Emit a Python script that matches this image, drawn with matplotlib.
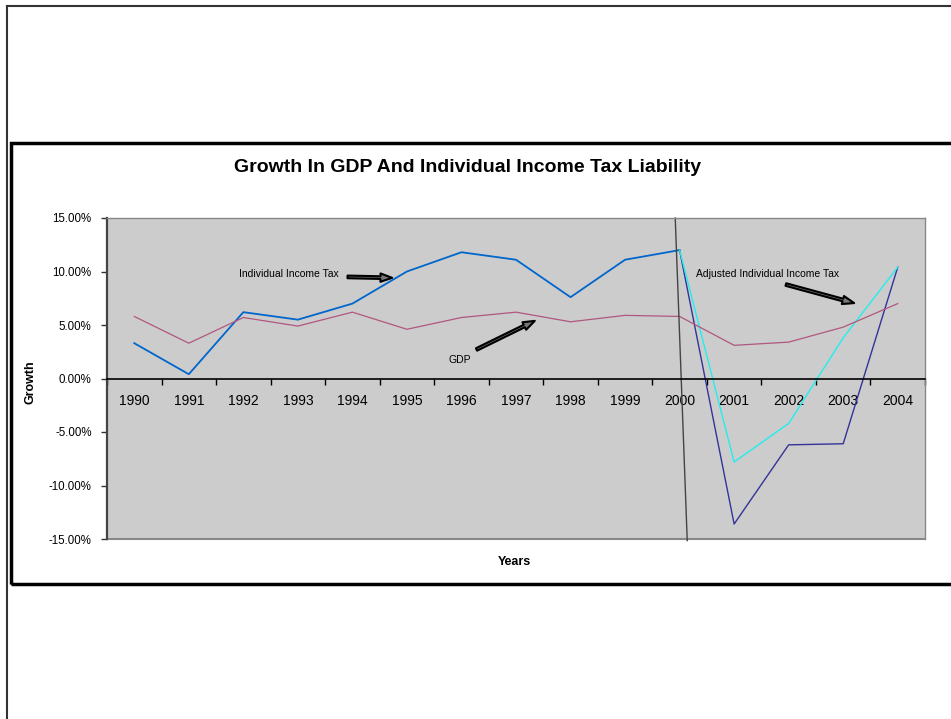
import numpy as np
import matplotlib
matplotlib.use("Agg")
import matplotlib.pyplot as plt
from matplotlib.patches import Rectangle, FancyArrowPatch
from matplotlib.lines import Line2D
from matplotlib.ticker import FixedLocator, FuncFormatter

plt.rcParams['font.family'] = ['Liberation Sans', 'DejaVu Sans']

# data (growth, percent)
years = ['1990', '1991', '1992', '1993', '1994', '1995', '1996', '1997',
         '1998', '1999', '2000', '2001', '2002', '2003', '2004']
income_tax = [3.3, 0.4, 6.2, 5.5, 7.0, 10.0, 11.8, 11.1, 7.6, 11.1, 12.0]
income_tax_after = [12.0, -13.6, -6.2, -6.1, 10.4]
adjusted_tax = [12.0, -7.8, -4.2, 3.8, 10.4]
gdp = [5.8, 3.3, 5.7, 4.9, 6.2, 4.6, 5.7, 6.2, 5.3, 5.9, 5.8, 3.1, 3.4, 4.8, 7.0]

x = np.arange(len(years))
x_after = x[10:]

W, H = 951, 719
fig = plt.figure(figsize=(W / 100, H / 100), dpi=100)
fig.patch.set_facecolor('white')

# page frame
fig.add_artist(Line2D([7 / W, 7 / W], [0, 1 - 6 / H], color='#333333', lw=1.5))
fig.add_artist(Line2D([7 / W, 1], [1 - 6 / H, 1 - 6 / H], color='#333333', lw=1.5))
# chart box
fig.add_artist(Rectangle((11 / W, 1 - 584 / H), 960 / W, (584 - 143) / H,
                         transform=fig.transFigure, fill=False, ec='black', lw=2.5))

ax = fig.add_axes([107 / W, 1 - 539 / H, 818 / W, (539 - 218) / H])
ax.set_facecolor('#cccccc')

ax.plot(x[:11], income_tax, color='#0066cc', lw=1.3)
ax.plot(x_after, income_tax_after, color='#333399', lw=1.0)
ax.plot(x_after, adjusted_tax, color='#22eeee', lw=1.0)
ax.plot(x, gdp, color='#b0577f', lw=0.9)

ax.set_xlim(-0.5, len(years) - 0.5)
ax.set_ylim(-15, 15)

# y axis
ax.yaxis.set_major_locator(FixedLocator([-15, -10, -5, 0, 5, 10, 15]))
ax.yaxis.set_major_formatter(FuncFormatter(lambda v, p: '%.2f%%' % v))
ax.tick_params(axis='y', labelsize=8.3, length=4, width=1, color='#333333', pad=7)

# x axis on the zero line
ax.spines['bottom'].set_position(('data', 0))
ax.spines['bottom'].set_color('black')
ax.spines['bottom'].set_linewidth(1.2)
ax.set_xticks(np.arange(-0.5, len(years)))
ax.set_xticklabels([])
ax.set_xticks(x, minor=True)
ax.set_xticklabels(years, minor=True)
ax.tick_params(axis='x', which='major', length=4, width=1, color='black')
ax.tick_params(axis='x', which='minor', length=0, labelsize=10, pad=11)

ax.spines['left'].set_color('#444444')
ax.spines['left'].set_linewidth(1.6)
for s in ['top', 'right']:
    ax.spines[s].set_color('#888888')
    ax.spines[s].set_linewidth(1.0)
ax.axhline(-15, color='#888888', lw=1.5, clip_on=False)

# hand drawn divider near 2000
div_x = [9.92, 10.14]
div_y = [15.0, -15.15]
ax.plot(div_x, div_y, color='#444444', lw=1.0, clip_on=False)

# annotations
ax.text(1.92, 9.78, 'Individual Income Tax', fontsize=7.5, va='center', ha='left')
ax.text(5.96, 1.77, 'GDP', fontsize=7.5, va='center', ha='center')
ax.text(10.30, 9.78, 'Adjusted Individual Income Tax', fontsize=7.5, va='center', ha='left')

arrows = [((3.86, 9.5), (4.78, 9.4)),
          ((6.23, 2.6), (7.39, 5.5)),
          ((11.90, 8.85), (13.25, 6.98))]
for a, b in arrows:
    ax.add_patch(FancyArrowPatch(a, b, arrowstyle='simple,head_length=0.7,head_width=0.5,tail_width=0.16',
                                 mutation_scale=12, fc='#777777', ec='black', lw=1.5))

fig.text(468 / W, 1 - 168 / H, 'Growth In GDP And Individual Income Tax Liability',
         fontsize=14, fontweight='bold', ha='center', va='center')
fig.text(30 / W, 1 - 382 / H, 'Growth', fontsize=9, fontweight='bold',
         rotation=90, ha='center', va='center')
fig.text(514 / W, 1 - 562 / H, 'Years', fontsize=9, fontweight='bold', ha='center', va='center')

fig.savefig('out.png', dpi=100)
